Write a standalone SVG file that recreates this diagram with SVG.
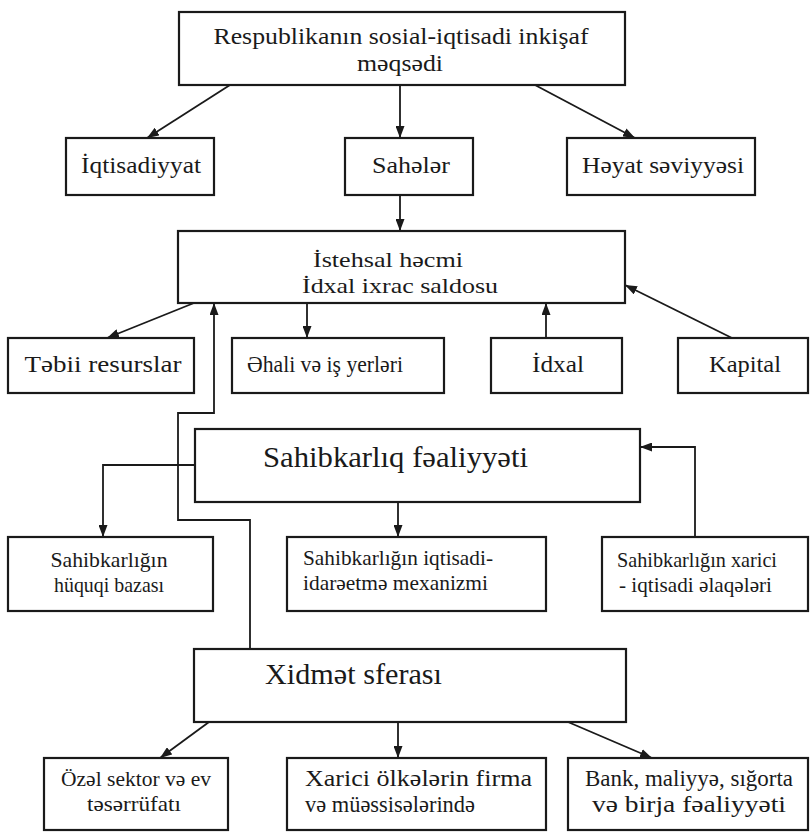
<svg xmlns="http://www.w3.org/2000/svg" width="810" height="832" viewBox="0 0 810 832">
<style>
.box{fill:#fff;stroke:#1a1a1a;stroke-width:2.2}
.t{font-family:"Liberation Serif","Times New Roman",serif;fill:#1a1a1a}
.c{text-anchor:middle}
.f24{font-size:24px}.f23{font-size:23px}.f22{font-size:22px}.f21{font-size:21px}.f30{font-size:30px}
.ln{fill:none;stroke:#1a1a1a;stroke-width:1.8}
.arr{marker-end:url(#ah)}
</style>
<defs>
<marker id="ah" viewBox="0 0 12 9" refX="12" refY="4.5" markerWidth="12" markerHeight="9" markerUnits="userSpaceOnUse" orient="auto">
<path d="M0,0 L12,4.5 L0,9 z" fill="#1a1a1a"/>
</marker>
</defs>
<rect width="810" height="832" fill="#fff"/>
<g id="connectors">
<path class="ln arr" d="M230,85 L147,138"/>
<path class="ln arr" d="M400,85 L400,138"/>
<path class="ln arr" d="M535,85 L635,138"/>
<path class="ln arr" d="M400,195 L400,231"/>
<path class="ln arr" d="M194,303 L107,338"/>
<path class="ln arr" d="M307,303 L307,338"/>
<path class="ln arr" d="M546,338 L546,303"/>
<path class="ln arr" d="M732,338 L625,285"/>
<path class="ln arr" d="M250,649 L250,520 L178,520 L178,413 L214,413 L214,303"/>
<path class="ln arr" d="M195,465 L103,465 L103,537"/>
<path class="ln arr" d="M398,502 L398,537"/>
<path class="ln arr" d="M695,537 L695,447 L640,447"/>
<path class="ln arr" d="M209,722 L160,758"/>
<path class="ln arr" d="M398,722 L398,758"/>
<path class="ln arr" d="M568,722 L652,758"/>
</g>
<g id="n-goal">
<rect class="box" x="179" y="12" width="446" height="73"/>
<text class="t c f23" x="401" y="44" textLength="375" lengthAdjust="spacingAndGlyphs">Respublikanın sosial-iqtisadi inkişaf</text>
<text class="t c f23" x="400" y="71" textLength="86" lengthAdjust="spacingAndGlyphs">məqsədi</text>
</g>
<g id="n-iqtisadiyyat">
<rect class="box" x="66" y="138" width="148" height="57"/>
<text class="t c f24" x="141" y="173" textLength="120" lengthAdjust="spacingAndGlyphs">İqtisadiyyat</text>
</g>
<g id="n-saheler">
<rect class="box" x="345" y="138" width="128" height="57"/>
<text class="t c f24" x="411" y="173" textLength="78" lengthAdjust="spacingAndGlyphs">Sahələr</text>
</g>
<g id="n-heyat">
<rect class="box" x="567" y="138" width="188" height="57"/>
<text class="t c f24" x="663" y="173" textLength="162" lengthAdjust="spacingAndGlyphs">Həyat səviyyəsi</text>
</g>
<g id="n-istehsal">
<rect class="box" x="178" y="231" width="447" height="72"/>
<text class="t c f22" x="388" y="267" textLength="150" lengthAdjust="spacingAndGlyphs">İstehsal həcmi</text>
<text class="t c f22" x="400" y="293" textLength="196" lengthAdjust="spacingAndGlyphs">İdxal ixrac saldosu</text>
</g>
<g id="n-tebii">
<rect class="box" x="8" y="338" width="186" height="55"/>
<text class="t c f24" x="103" y="372" textLength="157" lengthAdjust="spacingAndGlyphs">Təbii resurslar</text>
</g>
<g id="n-ehali">
<rect class="box" x="232" y="338" width="212" height="55"/>
<text class="t c f24" x="325" y="372" textLength="156" lengthAdjust="spacingAndGlyphs">Əhali və iş yerləri</text>
</g>
<g id="n-idxal">
<rect class="box" x="491" y="338" width="131" height="55"/>
<text class="t c f24" x="558" y="372" textLength="52" lengthAdjust="spacingAndGlyphs">İdxal</text>
</g>
<g id="n-kapital">
<rect class="box" x="678" y="338" width="130" height="55"/>
<text class="t c f24" x="745" y="372" textLength="72" lengthAdjust="spacingAndGlyphs">Kapital</text>
</g>
<g id="n-sahibkarliq">
<rect class="box" x="195" y="429" width="445" height="73"/>
<text class="t f30" x="263" y="467" textLength="265" lengthAdjust="spacingAndGlyphs">Sahibkarlıq fəaliyyəti</text>
</g>
<g id="n-huquqi">
<rect class="box" x="8" y="537" width="205" height="74"/>
<text class="t c f21" x="109" y="567" textLength="117" lengthAdjust="spacingAndGlyphs">Sahibkarlığın</text>
<text class="t c f21" x="109" y="592" textLength="110" lengthAdjust="spacingAndGlyphs">hüquqi bazası</text>
</g>
<g id="n-idareetme">
<rect class="box" x="287" y="537" width="259" height="74"/>
<text class="t f21" x="303" y="565" textLength="190" lengthAdjust="spacingAndGlyphs">Sahibkarlığın iqtisadi-</text>
<text class="t f21" x="303" y="590" textLength="185" lengthAdjust="spacingAndGlyphs">idarəetmə mexanizmi</text>
</g>
<g id="n-xarici-elaqe">
<rect class="box" x="602" y="537" width="206" height="74"/>
<text class="t f21" x="617" y="567" textLength="160" lengthAdjust="spacingAndGlyphs">Sahibkarlığın xarici</text>
<text class="t f21" x="619" y="592" textLength="153" lengthAdjust="spacingAndGlyphs">- iqtisadi əlaqələri</text>
</g>
<g id="n-xidmet">
<rect class="box" x="194" y="649" width="432" height="73"/>
<text class="t f30" x="265" y="684" textLength="177" lengthAdjust="spacingAndGlyphs">Xidmət sferası</text>
</g>
<g id="n-ozel">
<rect class="box" x="44" y="758" width="184" height="72"/>
<text class="t c f22" x="136" y="786" textLength="150" lengthAdjust="spacingAndGlyphs">Özəl sektor və ev</text>
<text class="t c f22" x="134" y="811" textLength="94" lengthAdjust="spacingAndGlyphs">təsərrüfatı</text>
</g>
<g id="n-xarici-olke">
<rect class="box" x="287" y="758" width="259" height="72"/>
<text class="t f23" x="305" y="786" textLength="227" lengthAdjust="spacingAndGlyphs">Xarici ölkələrin firma</text>
<text class="t f23" x="305" y="812" textLength="170" lengthAdjust="spacingAndGlyphs">və müəssisələrində</text>
</g>
<g id="n-bank">
<rect class="box" x="568" y="758" width="240" height="72"/>
<text class="t c f23" x="689" y="786" textLength="208" lengthAdjust="spacingAndGlyphs">Bank, maliyyə, sığorta</text>
<text class="t c f23" x="689" y="812" textLength="194" lengthAdjust="spacingAndGlyphs">və birja fəaliyyəti</text>
</g>
</svg>
